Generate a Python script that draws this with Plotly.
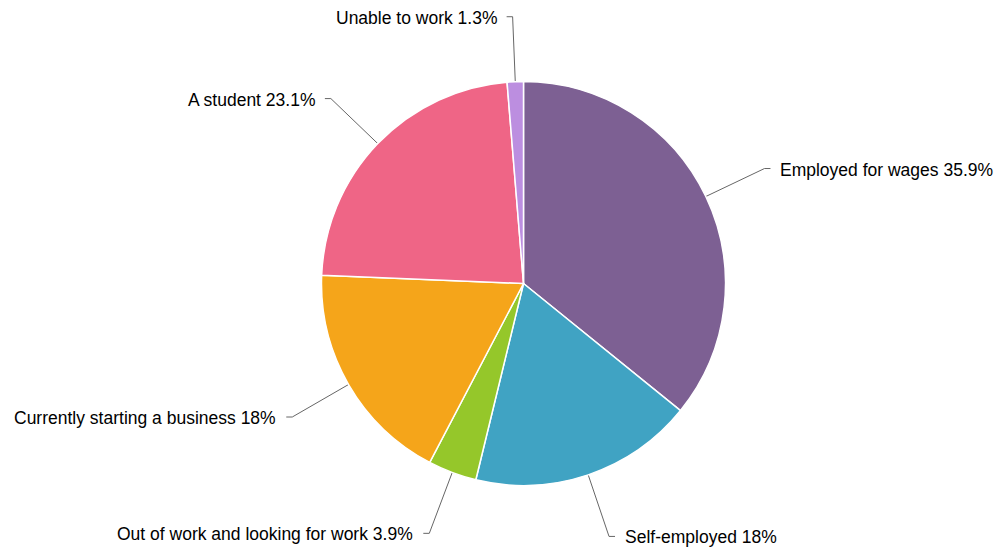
import math
import plotly.graph_objects as go

# Employment status breakdown
categories = [
    "Employed for wages",
    "Self-employed",
    "Out of work and looking for work",
    "Currently starting a business",
    "A student",
    "Unable to work",
]
shares = [35.9, 18, 3.9, 18, 23.1, 1.3]
colors = ["#7D6093", "#40A3C3", "#95C72A", "#F5A51A", "#EF6586", "#BC8EE0"]

W, H = 998, 550
CX, CY, R = 523.5, 283.5, 202      # pie centre and radius in pixels
LABEL_R = R + 65                   # radius where connectors bend
STUB = 6                           # horizontal stub before the label
GAP = 8                            # stub end to text

fig = go.Figure()

fig.add_trace(go.Pie(
    labels=categories,
    values=shares,
    sort=False,
    direction="clockwise",
    rotation=0,
    marker=dict(colors=colors, line=dict(color="#FFFFFF", width=1.5)),
    textinfo="none",
    hoverinfo="label+percent",
    showlegend=False,
    domain=dict(x=[(CX - R) / W, (CX + R) / W],
                y=[(H - CY - R) / H, (H - CY + R) / H]),
))

# Outside labels with bent connectors, placed from each slice's mid-angle
total = sum(shares)
cum = 0.0
for name, v in zip(categories, shares):
    mid = (cum + v / 2) / total * 2 * math.pi
    cum += v
    sx, sy = math.sin(mid), -math.cos(mid)
    ex, ey = CX + R * sx, CY + R * sy
    bx, by = CX + LABEL_R * sx, CY + LABEL_R * sy
    side = 1 if sx >= 0 else -1
    tx = bx + side * STUB
    fig.add_trace(go.Scatter(
        x=[ex, bx, tx], y=[ey, by, by], mode="lines",
        line=dict(color="#666666", width=1),
        hoverinfo="skip", showlegend=False,
    ))
    fig.add_annotation(
        x=tx + side * GAP, y=by + 1, xref="x", yref="y",
        text=f"{name} {v:g}%", showarrow=False,
        xanchor="left" if side > 0 else "right", yanchor="middle",
        font=dict(family="Liberation Sans, Arial, sans-serif", size=17.5, color="#000000"),
    )

fig.update_layout(
    width=W, height=H,
    margin=dict(l=0, r=0, t=0, b=0),
    paper_bgcolor="#FFFFFF", plot_bgcolor="rgba(0,0,0,0)",
    xaxis=dict(range=[0, W], visible=False, fixedrange=True),
    yaxis=dict(range=[H, 0], visible=False, fixedrange=True),
)

fig.write_html("out.html")
